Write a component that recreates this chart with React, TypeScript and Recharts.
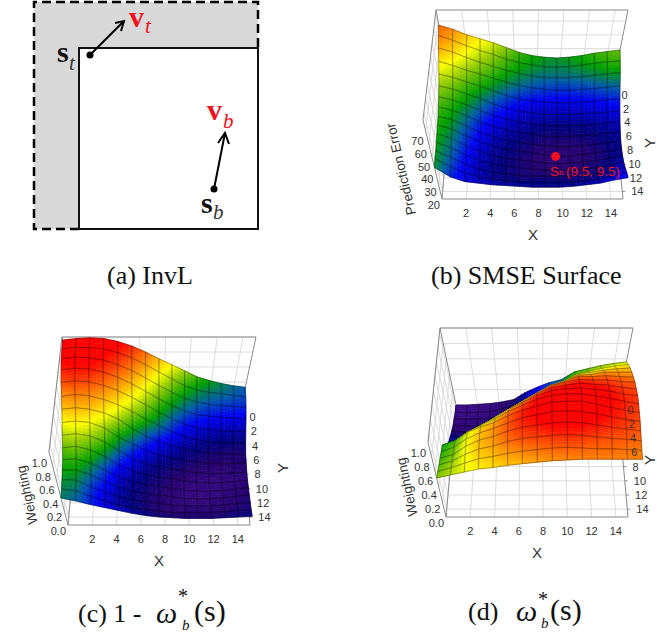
import React from 'react'
import { ComposedChart, Line, Scatter, XAxis, YAxis, ReferenceArea } from 'recharts'

const X_TICKS = [2, 4, 6, 8, 10, 12, 14]
const Y_TICKS = [0, 2, 4, 6, 8, 10, 12, 14]
const ERROR_TICKS = [20, 30, 40, 50, 60, 70]
const WEIGHT_TICKS = ['0.0', '0.2', '0.4', '0.6', '0.8', '1.0']

// surface heights, percent of box height, rows run y back to front, columns x left to right
const SMSE_SURFACE = [
  [81, 76, 69, 64, 59, 53, 47, 43, 41, 40, 41, 43, 46, 48, 50],
  [78, 72, 65, 59, 54, 48, 44, 41, 39, 38, 39, 41, 43, 45, 46],
  [72, 67, 60, 54, 49, 44, 40, 37, 35, 35, 35, 36, 38, 40, 41],
  [65, 60, 54, 49, 44, 39, 35, 32, 30, 29, 29, 30, 31, 33, 34],
  [59, 55, 49, 44, 38, 32, 28, 25, 24, 23, 23, 24, 25, 27, 28],
  [54, 50, 44, 38, 31, 26, 22, 20, 18, 18, 18, 19, 20, 21, 23],
  [50, 46, 40, 33, 26, 22, 18, 16, 14, 13, 14, 14, 15, 17, 19],
  [47, 43, 36, 28, 22, 18, 15, 13, 10, 10, 10, 11, 12, 14, 16],
  [45, 41, 33, 25, 19, 15, 12, 10, 8, 7, 7, 8, 10, 12, 14],
  [44, 39, 30, 23, 17, 13, 11, 9, 6, 5, 5, 7, 9, 11, 14],
  [43, 37, 28, 21, 15, 12, 10, 8, 6, 5, 6, 7, 9, 12, 15],
  [42, 35, 26, 19, 14, 12, 10, 8, 7, 7, 7, 8, 10, 13, 17],
  [41, 33, 24, 18, 14, 12, 10, 9, 9, 9, 9, 10, 12, 15, 20],
  [41, 31, 23, 18, 15, 13, 12, 12, 12, 12, 12, 13, 15, 19, 24],
  [40, 28, 22, 20, 18, 17, 16, 15, 15, 15, 16, 18, 20, 24, 27],
]

const ONE_MINUS_WEIGHT = [
  [96, 98, 99, 98, 94, 88, 80, 71, 63, 55, 47, 42, 38, 35, 33],
  [95, 97, 97, 95, 90, 83, 74, 64, 55, 46, 40, 37, 35, 33, 31],
  [93, 95, 94, 91, 85, 77, 67, 57, 48, 40, 35, 32, 30, 29, 28],
  [89, 91, 90, 86, 79, 70, 60, 50, 41, 34, 29, 27, 25, 24, 23],
  [83, 85, 84, 79, 72, 63, 53, 43, 34, 27, 22, 20, 18, 17, 17],
  [75, 78, 76, 71, 64, 55, 45, 36, 28, 21, 17, 14, 13, 12, 12],
  [69, 71, 69, 64, 56, 43, 33, 25, 20, 15, 12, 10, 9, 8, 8],
  [62, 64, 62, 55, 42, 33, 24, 18, 14, 11, 9, 7, 6, 7, 7],
  [56, 58, 55, 47, 35, 24, 17, 12, 10, 8, 5, 4, 4, 5, 6],
  [50, 52, 47, 38, 26, 18, 13, 10, 8, 5, 3, 2, 3, 4, 6],
  [45, 46, 40, 30, 21, 14, 11, 9, 6, 3, 2, 2, 3, 5, 7],
  [42, 42, 35, 26, 18, 13, 10, 8, 5, 3, 2, 3, 4, 6, 8],
  [40, 39, 30, 23, 16, 12, 10, 7, 5, 4, 4, 4, 5, 7, 9],
  [38, 36, 28, 21, 16, 13, 10, 8, 6, 6, 6, 6, 7, 9, 10],
  [37, 33, 28, 24, 20, 16, 13, 11, 10, 9, 9, 9, 10, 11, 12],
]

const WEIGHT = [
  [0, 0, 1, 2, 4, 7, 16, 23, 29, 33, 43, 47, 51, 54, 56],
  [1, 0, 1, 2, 5, 9, 18, 25, 33, 39, 50, 54, 58, 61, 63],
  [3, 2, 3, 3, 7, 13, 24, 34, 43, 50, 60, 63, 66, 68, 69],
  [5, 4, 4, 6, 14, 23, 35, 45, 55, 62, 70, 71, 74, 74, 74],
  [8, 6, 6, 16, 26, 35, 46, 57, 67, 73, 79, 79, 80, 79, 78],
  [12, 10, 15, 27, 37, 47, 58, 68, 78, 82, 86, 85, 85, 83, 82],
  [16, 15, 27, 37, 48, 58, 68, 78, 86, 89, 92, 90, 89, 86, 84],
  [21, 24, 38, 48, 58, 68, 77, 86, 93, 95, 96, 94, 92, 88, 86],
  [32, 36, 49, 58, 66, 76, 84, 92, 97, 99, 99, 96, 93, 89, 86],
  [42, 48, 59, 66, 72, 81, 88, 94, 99, 100, 100, 96, 92, 88, 85],
  [44, 50, 61, 69, 75, 82, 89, 93, 97, 98, 97, 94, 90, 87, 84],
  [46, 51, 62, 70, 75, 82, 87, 90, 93, 94, 93, 90, 87, 85, 82],
  [48, 53, 62, 69, 73, 79, 83, 85, 87, 88, 87, 85, 83, 82, 80],
  [50, 55, 61, 67, 70, 74, 77, 79, 81, 82, 81, 80, 80, 79, 78],
  [52, 56, 60, 64, 66, 69, 71, 73, 75, 76, 77, 77, 77, 77, 77],
]

// picture coordinates of each 3D box: floor back, floor front, top back, top front (left x, right x, y)
const BOX_B = { fb: [451, 612, 90], ff: [442, 623, 199], tb: [436, 628, 10], tf: [423, 642, 120] }
const BOX_C = { fb: [78, 240, 412], ff: [68, 250, 525], tb: [62, 256, 337], tf: [49, 269, 452] }
const BOX_D = { fb: [456, 618, 405], ff: [446, 628, 517], tb: [440, 633, 328], tf: [428, 647, 442] }

const PALETTE: [number, number[]][] = [
  [0, [58, 10, 133]],
  [7, [35, 0, 110]],
  [13, [0, 0, 128]],
  [25, [0, 0, 245]],
  [33, [0, 90, 170]],
  [42, [0, 160, 0]],
  [54, [150, 205, 0]],
  [62, [255, 255, 0]],
  [75, [255, 145, 0]],
  [92, [255, 0, 0]],
  [100, [255, 0, 0]],
]

const mix = (a: number, b: number, t: number) => a + (b - a) * t

const colorOf = (v: number) => {
  for (let i = 1; i < PALETTE.length; i++) {
    if (v <= PALETTE[i][0]) {
      const [p0, c0] = PALETTE[i - 1]
      const [p1, c1] = PALETTE[i]
      const t = (v - p0) / (p1 - p0)
      return `rgb(${Math.round(mix(c0[0], c1[0], t))},${Math.round(mix(c0[1], c1[1], t))},${Math.round(mix(c0[2], c1[2], t))})`
    }
  }
  return 'rgb(255,0,0)'
}

// u across x, t from back to front, h up
const project = (box: any, u: number, t: number, h: number) => {
  const at = (i: number) =>
    mix(mix(box.fb[i], box.ff[i], t), mix(box.tb[i], box.tf[i], t), h)
  return { x: mix(at(0), at(1), u), y: at(2) }
}

const yToT = (y: number) => (y + 0.7) / 15.8

const buildCells = (values: number[][], box: any) => {
  const cells: any[] = []
  for (let r = 0; r < 14; r++) {
    for (let c = 0; c < 14; c++) {
      const zs = [values[r][c], values[r][c + 1], values[r + 1][c + 1], values[r + 1][c]]
      const uv = [[c, r], [c + 1, r], [c + 1, r + 1], [c, r + 1]]
      const corners = uv.map(([a, b], i) => project(box, a / 14, b / 14, zs[i] / 100))
      cells.push({
        x: corners.reduce((s, p) => s + p.x, 0) / 4,
        y: corners.reduce((s, p) => s + p.y, 0) / 4,
        corners,
        zs,
      })
    }
  }
  return cells
}

const SUB = 4

const SurfaceCell = (props: any) => {
  const { cx, cy, payload } = props
  const { corners, zs } = payload
  const ox = cx - payload.x
  const oy = cy - payload.y
  const at = (a: number, b: number) => {
    const w = [(1 - a) * (1 - b), a * (1 - b), a * b, (1 - a) * b]
    let x = 0, y = 0, z = 0
    w.forEach((k, i) => {
      x += corners[i].x * k
      y += corners[i].y * k
      z += zs[i] * k
    })
    return { x: x + ox, y: y + oy, z }
  }
  const parts = []
  for (let i = 0; i < SUB; i++) {
    for (let j = 0; j < SUB; j++) {
      const p = [at(i / SUB, j / SUB), at((i + 1) / SUB, j / SUB), at((i + 1) / SUB, (j + 1) / SUB), at(i / SUB, (j + 1) / SUB)]
      const col = colorOf(at((i + 0.5) / SUB, (j + 0.5) / SUB).z)
      parts.push(<polygon key={`${i}-${j}`} points={p.map((q) => `${q.x},${q.y}`).join(' ')} fill={col} stroke={col} strokeWidth={0.6} />)
    }
  }
  const outline = corners.map((q: any) => `${q.x + ox},${q.y + oy}`).join(' ')
  return (
    <g>
      {parts}
      <polygon points={outline} fill="none" stroke="#000" strokeOpacity={0.45} strokeWidth={0.7} />
    </g>
  )
}

const TextMark = (props: any) => {
  const { cx, cy, payload: p } = props
  return (
    <text
      x={cx}
      y={cy}
      textAnchor={p.anchor || 'start'}
      dominantBaseline={p.base || 'auto'}
      fontFamily={p.font || 'Liberation Sans'}
      fontSize={p.size}
      fontWeight={p.bold ? 700 : 400}
      fontStyle={p.italic ? 'italic' : 'normal'}
      fill={p.fill || '#333'}
      transform={p.rotate ? `rotate(${p.rotate} ${cx} ${cy})` : undefined}
    >
      {p.text}
    </text>
  )
}

const RedDot = (props: any) => <circle cx={props.cx} cy={props.cy} r={4.5} fill="#f01020" />
const BlackDot = (props: any) => <circle cx={props.cx} cy={props.cy} r={3.5} fill="#000" />

// two-point segments joined into one path with gaps
const joinSegments = (segs: { x: number; y: number }[][]) => {
  const out: any[] = []
  segs.forEach((s) => {
    s.forEach((p) => out.push(p))
    out.push({ x: s[s.length - 1].x, y: null })
  })
  return out
}

const gridSegments = (box: any, zFractions: number[]) => {
  const segs: any[] = []
  X_TICKS.forEach((v) => {
    const u = v / 15
    segs.push([project(box, u, 0, 0), project(box, u, 1, 0)])
    segs.push([project(box, u, 0, 0), project(box, u, 0, 1)])
  })
  Y_TICKS.forEach((v) => {
    const t = yToT(v)
    segs.push([project(box, 0, t, 0), project(box, 1, t, 0)])
    segs.push([project(box, 0, t, 0), project(box, 0, t, 1)])
  })
  zFractions.forEach((h) => {
    segs.push([project(box, 0, 0, h), project(box, 1, 0, h)])
    segs.push([project(box, 0, 0, h), project(box, 0, 1, h)])
  })
  return joinSegments(segs)
}

const frameSegments = (box: any) => {
  const segs = [
    [project(box, 0, 0, 1), project(box, 1, 0, 1)],
    [project(box, 0, 0, 1), project(box, 0, 1, 1), project(box, 0, 1, 0), project(box, 1, 1, 0)],
    [project(box, 0, 0, 1), project(box, 0, 0, 0), project(box, 0, 1, 0)],
    [project(box, 1, 0, 1), project(box, 1, 0, 0), project(box, 1, 1, 0)],
  ]
  Y_TICKS.forEach((v) => {
    const p = project(box, 1, yToT(v), 0)
    segs.push([p, { x: p.x + 3, y: p.y }])
  })
  return joinSegments(segs)
}

const axisLabels = (box: any, zLabels: { text: string; h: number }[]) => {
  const out: any[] = []
  X_TICKS.forEach((v) => {
    const p = project(box, v / 15, 1, 0)
    out.push({ x: p.x, y: p.y + 14, text: String(v), size: 11, anchor: 'middle', base: 'central' })
  })
  Y_TICKS.forEach((v) => {
    const p = project(box, 1, yToT(v), 0)
    out.push({ x: p.x + 9, y: p.y, text: String(v), size: 11, base: 'central' })
  })
  zLabels.forEach(({ text, h }) => {
    const p = project(box, 0, 1, h)
    out.push({ x: p.x - 2, y: p.y + 6 + 5 * h, text, size: 11, anchor: 'end', base: 'central' })
  })
  return out
}

const ERROR_LEVELS = ERROR_TICKS.map((v) => ({ text: String(v), h: (v - 20) / 58 }))
const WEIGHT_LEVELS = WEIGHT_TICKS.map((v) => ({ text: v, h: Number(v) }))

const SERIF = 'Liberation Serif'
const RED = '#f0101c'

const PANEL_A_TEXT = [
  { x: 57, y: 62, text: 's', size: 30, bold: true, font: SERIF, fill: '#111' },
  { x: 69, y: 70, text: 't', size: 21, italic: true, font: SERIF, fill: '#333' },
  { x: 129, y: 27, text: 'v', size: 30, bold: true, font: SERIF, fill: RED },
  { x: 145, y: 33, text: 't', size: 21, italic: true, font: SERIF, fill: RED },
  { x: 201, y: 213, text: 's', size: 30, bold: true, font: SERIF, fill: '#111' },
  { x: 213, y: 219, text: 'b', size: 21, italic: true, font: SERIF, fill: '#333' },
  { x: 207, y: 120, text: 'v', size: 30, bold: true, font: SERIF, fill: RED },
  { x: 223, y: 128, text: 'b', size: 21, italic: true, font: SERIF, fill: RED },
]

const CAPTIONS = [
  { x: 107, y: 284, text: '(a) InvL', size: 26, font: SERIF, fill: '#111' },
  { x: 431, y: 284, text: '(b) SMSE Surface', size: 26, font: SERIF, fill: '#111' },
  { x: 78, y: 622, text: '(c) 1 -', size: 26, font: SERIF, fill: '#111' },
  { x: 156, y: 623, text: 'ω', size: 30, italic: true, font: SERIF, fill: '#111' },
  { x: 178, y: 603, text: '*', size: 20, font: SERIF, fill: '#111' },
  { x: 182, y: 630, text: 'b', size: 15, italic: true, font: SERIF, fill: '#111' },
  { x: 194, y: 621, text: '(s)', size: 30, font: SERIF, fill: '#111' },
  { x: 468, y: 620, text: '(d)', size: 26, font: SERIF, fill: '#111' },
  { x: 516, y: 621, text: 'ω', size: 30, italic: true, font: SERIF, fill: '#111' },
  { x: 538, y: 606, text: '*', size: 20, font: SERIF, fill: '#111' },
  { x: 541, y: 628, text: 'b', size: 15, italic: true, font: SERIF, fill: '#111' },
  { x: 550, y: 620, text: '(s)', size: 30, font: SERIF, fill: '#111' },
]

const AXIS_TITLES = [
  { x: 533, y: 234, text: 'X', size: 15, anchor: 'middle', base: 'central' },
  { x: 649, y: 143, text: 'Y', size: 15, anchor: 'middle', base: 'central', rotate: -90 },
  { x: 401, y: 169, text: 'Prediction Error', size: 13.5, anchor: 'middle', base: 'central', rotate: -103 },
  { x: 159, y: 560, text: 'X', size: 15, anchor: 'middle', base: 'central' },
  { x: 282, y: 468, text: 'Y', size: 15, anchor: 'middle', base: 'central', rotate: -90 },
  { x: 27, y: 495, text: 'Weighting', size: 13.5, anchor: 'middle', base: 'central', rotate: -102 },
  { x: 537, y: 552, text: 'X', size: 15, anchor: 'middle', base: 'central' },
  { x: 649, y: 460, text: 'Y', size: 15, anchor: 'middle', base: 'central', rotate: -90 },
  { x: 407, y: 487, text: 'Weighting', size: 13.5, anchor: 'middle', base: 'central', rotate: -102 },
]

const S_B_MARKER = { xValue: 9.5, yValue: 9.5, height: 5 }
const S_B_LABEL = [
  { x: 550, y: 171, text: 'S', size: 13.5, fill: RED, base: 'central' },
  { x: 559, y: 172, text: 'b', size: 8, fill: RED, base: 'central' },
  { x: 566, y: 171, text: '(9.5, 9.5)', size: 13.5, fill: RED, base: 'central' },
]

// panel (a) diagram
const INVL_GREY = [
  { x1: 34, x2: 258, y1: 2, y2: 48 },
  { x1: 34, x2: 79, y1: 48, y2: 229 },
]
const INVL_SOLID = [
  [{ x: 79, y: 229 }, { x: 79, y: 48 }, { x: 258, y: 48 }, { x: 258, y: 229 }, { x: 79, y: 229 }],
]
const INVL_DASHED = [
  [{ x: 79, y: 229 }, { x: 34, y: 229 }, { x: 34, y: 2 }, { x: 258, y: 2 }, { x: 258, y: 48 }],
]
const INVL_ARROWS = [
  [{ x: 90, y: 55 }, { x: 124, y: 21 }],
  [{ x: 115, y: 23 }, { x: 124, y: 21 }, { x: 121, y: 31 }],
  [{ x: 214, y: 189 }, { x: 225, y: 133 }],
  [{ x: 218, y: 143 }, { x: 225, y: 133 }, { x: 229, y: 144 }],
]
const INVL_POINTS = [{ x: 90, y: 55 }, { x: 214, y: 189 }]

const panels = [
  { id: 'b', box: BOX_B, values: SMSE_SURFACE, levels: ERROR_LEVELS },
  { id: 'c', box: BOX_C, values: ONE_MINUS_WEIGHT, levels: WEIGHT_LEVELS },
  { id: 'd', box: BOX_D, values: WEIGHT, levels: WEIGHT_LEVELS },
]

const markerPoint = project(BOX_B, S_B_MARKER.xValue / 15, (S_B_MARKER.yValue + 0.7) / 15.8, S_B_MARKER.height / 100)

const allText = [
  ...panels.flatMap((p) => axisLabels(p.box, p.levels)),
  ...AXIS_TITLES,
  ...PANEL_A_TEXT,
  ...S_B_LABEL,
  ...CAPTIONS,
]

export default function App() {
  return (
    <div style={{ position: 'absolute', left: 0, top: 0, width: 657, height: 636, overflow: 'hidden', background: '#fff' }}>
      <ComposedChart width={657} height={636} margin={{ top: 0, right: 0, bottom: 0, left: 0 }}>
        <XAxis type="number" dataKey="x" domain={[0, 657]} hide allowDataOverflow />
        <YAxis type="number" dataKey="y" domain={[0, 636]} reversed hide allowDataOverflow />

        {INVL_GREY.map((r, i) => (
          <ReferenceArea key={i} {...r} fill="#d9d9d9" fillOpacity={1} stroke="none" ifOverflow="visible" />
        ))}
        {panels.map((p) => (
          <Line key={`grid-${p.id}`} data={gridSegments(p.box, p.levels.map((l) => l.h))} dataKey="y" stroke="#dcdcdc" strokeWidth={1} dot={false} isAnimationActive={false} />
        ))}
        {panels.map((p) => (
          <Line key={`frame-${p.id}`} data={frameSegments(p.box)} dataKey="y" stroke="#8a8a8a" strokeWidth={1} dot={false} isAnimationActive={false} />
        ))}
        {panels.map((p) => (
          <Scatter key={`surface-${p.id}`} data={buildCells(p.values, p.box)} shape={SurfaceCell} isAnimationActive={false} />
        ))}

        {INVL_DASHED.map((d, i) => (
          <Line key={`dash-${i}`} data={d} dataKey="y" stroke="#000" strokeWidth={2.5} strokeDasharray="9 5" dot={false} isAnimationActive={false} />
        ))}
        {INVL_SOLID.map((d, i) => (
          <Line key={`solid-${i}`} data={d} dataKey="y" stroke="#111" strokeWidth={2} dot={false} isAnimationActive={false} />
        ))}
        {INVL_ARROWS.map((d, i) => (
          <Line key={`arrow-${i}`} data={d} dataKey="y" stroke="#000" strokeWidth={2} dot={false} isAnimationActive={false} />
        ))}
        <Scatter data={INVL_POINTS} shape={BlackDot} isAnimationActive={false} />
        <Scatter data={[markerPoint]} shape={RedDot} isAnimationActive={false} />
        <Scatter data={allText} shape={TextMark} isAnimationActive={false} />
      </ComposedChart>
    </div>
  )
}
